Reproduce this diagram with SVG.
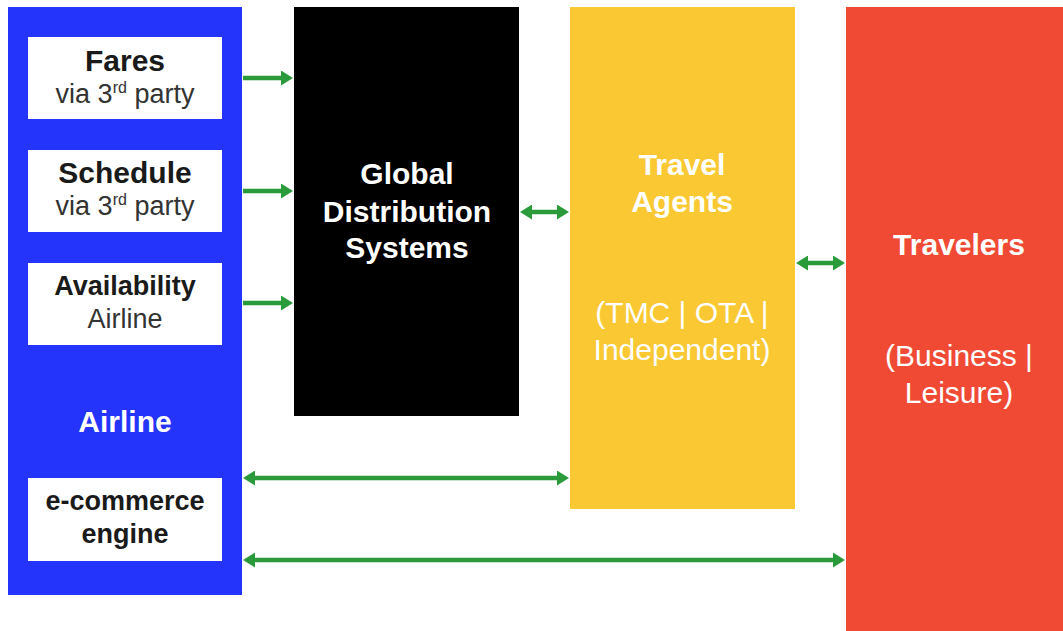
<svg xmlns="http://www.w3.org/2000/svg" width="1063" height="631" viewBox="0 0 1063 631">
  <style>
    text { font-family: "Liberation Sans", Arial, sans-serif; text-anchor: middle; }
    .b { font-weight: bold; }
    .w { fill: #ffffff; }
    .d { fill: #1a1a1a; }
    .g { fill: #333333; }
    .box { fill: #ffffff; }
    .link { stroke: #2a9a3a; stroke-width: 4.5; fill: none; }
  </style>
  <defs>
    <marker id="head" markerUnits="userSpaceOnUse" markerWidth="12" markerHeight="15" refX="2" refY="7.5" orient="auto-start-reverse">
      <path d="M0,0 L12,7.5 L0,15 z" fill="#2a9a3a"/>
    </marker>
  </defs>
  <rect width="1063" height="631" fill="#ffffff"/>

  <!-- Airline column with its data sources -->
  <g id="airline">
    <rect x="8" y="7" width="234" height="588" fill="#2434fb"/>
    <text x="125" y="432" class="b w" font-size="30">Airline</text>
  </g>
  <g id="fares">
    <rect class="box" x="28" y="37" width="194" height="82"/>
    <text x="125" y="71" class="b d" font-size="30">Fares</text>
    <text x="125" y="103" class="g" font-size="27">via 3<tspan font-size="16" dy="-10">rd</tspan><tspan dy="10"> party</tspan></text>
  </g>
  <g id="schedule">
    <rect class="box" x="28" y="150" width="194" height="82"/>
    <text x="125" y="183" class="b d" font-size="30">Schedule</text>
    <text x="125" y="215" class="g" font-size="27">via 3<tspan font-size="16" dy="-10">rd</tspan><tspan dy="10"> party</tspan></text>
  </g>
  <g id="availability">
    <rect class="box" x="28" y="263" width="194" height="82"/>
    <text x="125" y="295" class="b d" font-size="27">Availability</text>
    <text x="125" y="328" class="g" font-size="27">Airline</text>
  </g>
  <g id="ecommerce">
    <rect class="box" x="28" y="478" width="194" height="83"/>
    <text x="125" y="510" class="b d" font-size="27">e-commerce</text>
    <text x="125" y="543" class="b d" font-size="27">engine</text>
  </g>

  <!-- Global Distribution Systems -->
  <g id="gds">
    <rect x="294" y="7" width="225" height="409" fill="#000000"/>
    <text x="407" y="184" class="b w" font-size="30">Global</text>
    <text x="407" y="222" class="b w" font-size="30">Distribution</text>
    <text x="407" y="258" class="b w" font-size="30">Systems</text>
  </g>

  <!-- Travel Agents -->
  <g id="agents">
    <rect x="570" y="7" width="225" height="502" fill="#f9c833"/>
    <text x="682" y="175" class="b w" font-size="30">Travel</text>
    <text x="682" y="212" class="b w" font-size="30">Agents</text>
    <text x="682" y="323" class="w" font-size="30">(TMC | OTA |</text>
    <text x="682" y="360" class="w" font-size="30">Independent)</text>
  </g>

  <!-- Travelers -->
  <g id="travelers">
    <rect x="846" y="7" width="230" height="630" fill="#f04a35"/>
    <text x="959" y="255" class="b w" font-size="30">Travelers</text>
    <text x="959" y="366" class="w" font-size="30">(Business |</text>
    <text x="959" y="403" class="w" font-size="30">Leisure)</text>
  </g>

  <!-- Connectors -->
  <g id="connectors">
    <line class="link" x1="243" y1="78" x2="283" y2="78" marker-end="url(#head)"/>
    <line class="link" x1="243" y1="191" x2="283" y2="191" marker-end="url(#head)"/>
    <line class="link" x1="243" y1="303" x2="283" y2="303" marker-end="url(#head)"/>
    <line class="link" x1="530" y1="212" x2="559" y2="212" marker-start="url(#head)" marker-end="url(#head)"/>
    <line class="link" x1="806" y1="263" x2="835" y2="263" marker-start="url(#head)" marker-end="url(#head)"/>
    <line class="link" x1="253" y1="478" x2="559" y2="478" marker-start="url(#head)" marker-end="url(#head)"/>
    <line class="link" x1="253" y1="560" x2="835" y2="560" marker-start="url(#head)" marker-end="url(#head)"/>
  </g>
</svg>
